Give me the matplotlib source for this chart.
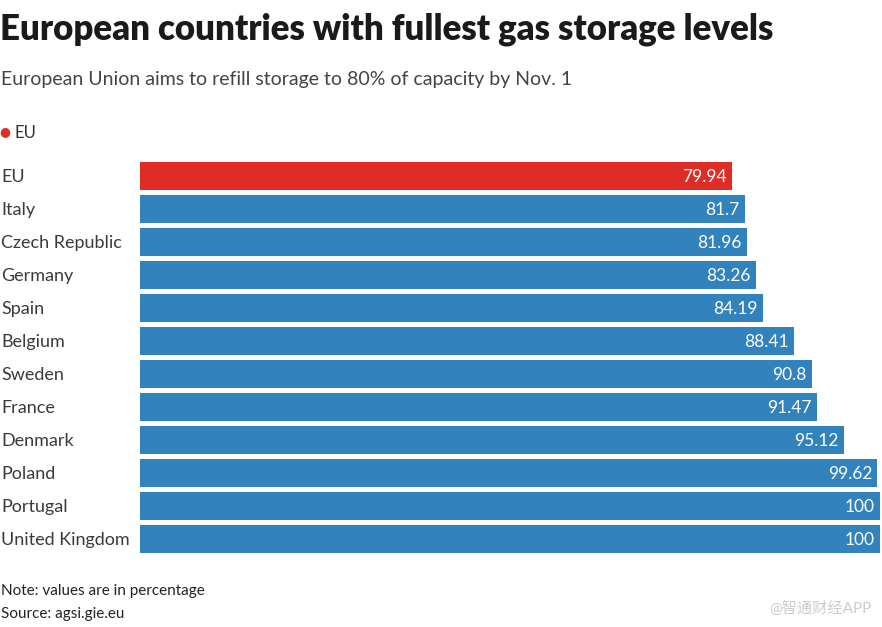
import matplotlib.pyplot as plt

# Data
countries = ["EU", "Italy", "Czech Republic", "Germany", "Spain", "Belgium",
             "Sweden", "France", "Denmark", "Poland", "Portugal", "United Kingdom"]
levels = [79.94, 81.7, 81.96, 83.26, 84.19, 88.41, 90.8, 91.47, 95.12, 99.62, 100, 100]
labels = ["79.94", "81.7", "81.96", "83.26", "84.19", "88.41", "90.8", "91.47",
          "95.12", "99.62", "100", "100"]

red = "#de2d26"
blue = "#3182bd"
colors = [red if c == "EU" else blue for c in countries]

plt.rcParams['font.family'] = ['Lato', 'Noto Sans CJK SC', 'DejaVu Sans']

W, H = 882, 627
fig = plt.figure(figsize=(W / 100, H / 100), dpi=100)
ax = fig.add_axes([140 / W, 1 - 555.5 / H, 740 / W, 396 / H])

y = list(range(len(countries)))
ax.barh(y, levels, height=0.82, color=colors)
ax.set_xlim(0, 100)
ax.set_ylim(len(countries) - 0.5, -0.5)

for yi, v, lab in zip(y, levels, labels):
    ax.text(v - 0.7, yi + 0.04, lab, ha="right", va="center", color="white",
            fontsize=12.5)

for yi, c in zip(y, countries):
    fig.text(1 / W, 1 - (177 + yi * 33) / H, c, ha="left", va="center",
             fontsize=13, color="#3a3a3a")

ax.axis("off")

fig.text(0, 1 - 29 / H, "European countries with fullest gas storage levels",
         fontsize=25, fontweight="heavy", color="#1a1a1a", va="center", ha="left")
fig.text(1 / W, 1 - 79 / H, "European Union aims to refill storage to 80% of capacity by Nov. 1",
         fontsize=14, color="#444444", va="center", ha="left")

# legend
fig.text(5 / W, 1 - 132 / H, "\u25CF", color=red, fontsize=9, va="center", ha="center",
         family="DejaVu Sans")
fig.text(14 / W, 1 - 133 / H, "EU", fontsize=12, color="#333333", va="center", ha="left")

fig.text(1 / W, 1 - 591 / H, "Note: values are in percentage", fontsize=11,
         color="#222222", va="center", ha="left")
fig.text(1 / W, 1 - 614 / H, "Source: agsi.gie.eu", fontsize=11,
         color="#222222", va="center", ha="left")
fig.text(872 / W, 1 - 608 / H, "@智通财经APP", fontsize=11, color="#cccccc",
         va="center", ha="right")

fig.savefig("out.png", dpi=100)
